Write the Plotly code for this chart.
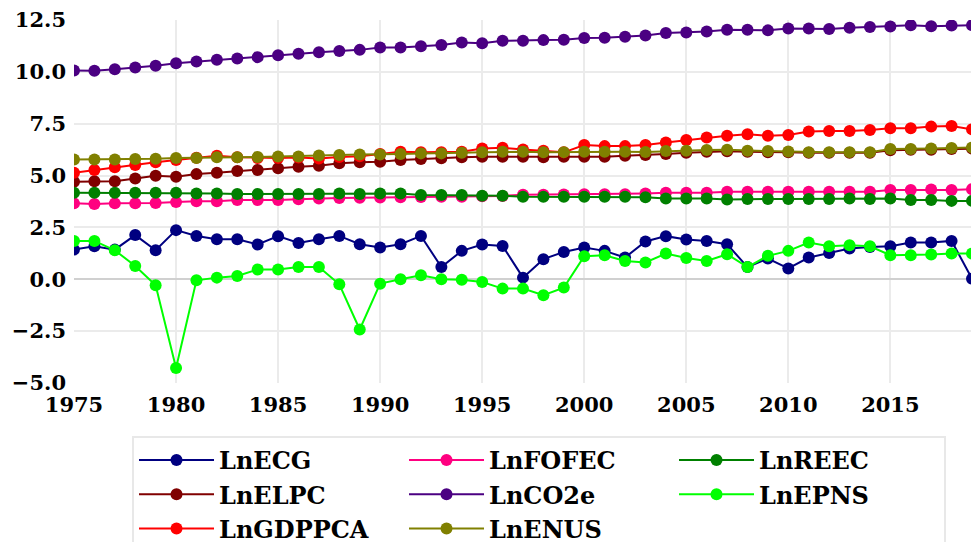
import plotly.graph_objects as go

years = list(range(1975, 2020))

LnECG = [1.43, 1.59, 1.43, 2.13, 1.40, 2.37, 2.09, 1.93, 1.93, 1.68, 2.08, 1.75, 1.93,
         2.09, 1.69, 1.53, 1.69, 2.09, 0.59, 1.37, 1.68, 1.61, 0.08, 0.97, 1.32, 1.53,
         1.37, 1.05, 1.82, 2.08, 1.92, 1.85, 1.69, 0.59, 1.00, 0.52, 1.05, 1.27, 1.48,
         1.56, 1.59, 1.77, 1.77, 1.85, 0.03]
LnELPC = [4.70, 4.73, 4.73, 4.86, 4.99, 4.94, 5.07, 5.14, 5.22, 5.27, 5.35, 5.43, 5.47,
          5.59, 5.64, 5.67, 5.75, 5.80, 5.83, 5.88, 5.91, 5.91, 5.91, 5.88, 5.91, 5.91,
          5.91, 5.96, 5.99, 6.04, 6.10, 6.15, 6.17, 6.15, 6.12, 6.12, 6.10, 6.10, 6.10,
          6.10, 6.22, 6.24, 6.25, 6.28, 6.30]
LnGDPPCA = [5.14, 5.27, 5.40, 5.51, 5.64, 5.75, 5.86, 5.96, 5.88, 5.85, 5.85, 5.87, 5.82,
            5.90, 5.93, 6.04, 6.15, 6.12, 6.12, 6.15, 6.31, 6.34, 6.26, 6.20, 6.12, 6.47,
            6.42, 6.42, 6.47, 6.59, 6.71, 6.83, 6.92, 6.99, 6.92, 6.96, 7.12, 7.15, 7.15,
            7.20, 7.28, 7.28, 7.36, 7.39, 7.23]
LnFOFEC = [3.66, 3.63, 3.66, 3.66, 3.68, 3.72, 3.76, 3.76, 3.82, 3.82, 3.82, 3.86, 3.90,
           3.92, 3.93, 3.94, 3.95, 3.97, 3.98, 3.98, 4.00, 4.02, 4.07, 4.08, 4.09, 4.10,
           4.10, 4.10, 4.14, 4.17, 4.17, 4.17, 4.22, 4.22, 4.22, 4.22, 4.22, 4.22, 4.22,
           4.22, 4.30, 4.30, 4.33, 4.30, 4.34]
LnCO2e = [10.06, 10.05, 10.13, 10.21, 10.29, 10.42, 10.50, 10.58, 10.64, 10.71, 10.80,
          10.87, 10.95, 11.01, 11.06, 11.17, 11.17, 11.24, 11.30, 11.42, 11.38, 11.50,
          11.50, 11.53, 11.55, 11.63, 11.64, 11.69, 11.75, 11.87, 11.90, 11.95, 12.03,
          12.03, 12.00, 12.09, 12.09, 12.07, 12.13, 12.16, 12.19, 12.25, 12.20, 12.23, 12.25]
LnENUS = [5.78, 5.78, 5.78, 5.80, 5.81, 5.85, 5.85, 5.88, 5.88, 5.90, 5.92, 5.92, 5.97,
          5.99, 6.02, 6.02, 6.04, 6.07, 6.07, 6.10, 6.12, 6.15, 6.15, 6.12, 6.13, 6.15,
          6.15, 6.15, 6.14, 6.18, 6.20, 6.23, 6.25, 6.20, 6.18, 6.16, 6.13, 6.13, 6.13,
          6.13, 6.28, 6.28, 6.30, 6.33, 6.35]
LnREEC = [4.17, 4.17, 4.17, 4.17, 4.17, 4.17, 4.14, 4.14, 4.11, 4.11, 4.11, 4.11, 4.11,
          4.14, 4.11, 4.14, 4.14, 4.06, 4.06, 4.06, 4.03, 4.03, 3.98, 3.98, 3.98, 3.98,
          3.98, 3.98, 3.95, 3.90, 3.90, 3.90, 3.85, 3.87, 3.87, 3.87, 3.87, 3.87, 3.90,
          3.87, 3.90, 3.82, 3.82, 3.78, 3.78]
LnEPNS = [1.85, 1.85, 1.40, 0.64, -0.29, -4.28, -0.05, 0.08, 0.16, 0.47, 0.47, 0.59, 0.59,
          -0.24, -2.42, -0.21, 0.00, 0.19, 0.00, -0.02, -0.13, -0.45, -0.45, -0.77, -0.40,
          1.11, 1.16, 0.88, 0.81, 1.24, 1.03, 0.88, 1.21, 0.59, 1.13, 1.37, 1.77, 1.59,
          1.64, 1.59, 1.16, 1.16, 1.19, 1.24, 1.24]

# (name, values, colour, legend rank) in drawing order
series = [
    ("LnECG", LnECG, "#000080", 1),
    ("LnELPC", LnELPC, "#800000", 4),
    ("LnGDPPCA", LnGDPPCA, "#FF0000", 7),
    ("LnFOFEC", LnFOFEC, "#FF0080", 2),
    ("LnCO2e", LnCO2e, "#4B0082", 5),
    ("LnENUS", LnENUS, "#808000", 8),
    ("LnREEC", LnREEC, "#008000", 3),
    ("LnEPNS", LnEPNS, "#00FF00", 6),
]

fig = go.Figure()
for name, vals, col, rank in series:
    fig.add_trace(go.Scatter(
        x=years, y=vals, name=name, mode="lines+markers",
        line=dict(color=col, width=2),
        marker=dict(color=col, size=12),
        legendrank=rank,
    ))

tickfont = dict(family="DejaVu Serif", size=21, color="#000000", weight="bold")

fig.update_layout(
    width=979, height=542,
    margin=dict(l=66, r=15, t=12, b=167, autoexpand=False),
    paper_bgcolor="white", plot_bgcolor="white",
    xaxis=dict(range=[1975, 2019], tick0=1975, dtick=5, showgrid=True,
               gridcolor="#ebebeb", gridwidth=1.5, zeroline=False,
               tickfont=tickfont, ticks="", showline=False, ticklabelstandoff=7,
               ticklabeloverflow="allow"),
    yaxis=dict(range=[-5, 12.5], tick0=-5, dtick=2.5, tickformat=".1f",
               showgrid=True, gridcolor="#ebebeb", gridwidth=1.5,
               zeroline=True, zerolinecolor="#d0d0d0", zerolinewidth=2,
               tickfont=tickfont, ticks="", showline=False, ticklabelstandoff=7,
               ticklabeloverflow="allow"),
    legend=dict(orientation="h", x=0.0646, xanchor="left", y=-0.146, yanchor="top",
                font=dict(family="DejaVu Serif", size=24, color="#000000", weight="bold"),
                bordercolor="#e8e8e8", borderwidth=2, bgcolor="white",
                entrywidth=180, entrywidthmode="pixels", itemwidth=75,
                tracegroupgap=0),
    showlegend=True,
)

fig.write_html("out.html")
